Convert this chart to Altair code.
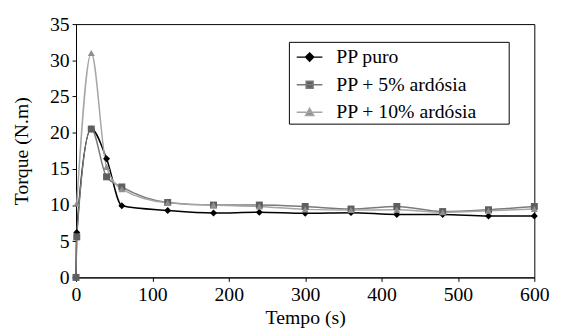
import altair as alt
import pandas as pd

tempo = [0, 1, 20, 40, 60, 120, 180, 240, 300, 360, 420, 480, 540, 600]
pp_puro = [0, 6.2, 20.5, 16.4, 9.9, 9.25, 8.9, 9.0, 8.85, 8.95, 8.7, 8.7, 8.5, 8.5]
pp_5 = [0, 5.6, 20.5, 13.9, 12.5, 10.35, 10.0, 10.0, 9.8, 9.45, 9.8, 9.1, 9.35, 9.8]
pp_10 = [None, 10.2, 31.0, 15.25, 12.2, 10.3, 10.0, 9.8, 9.4, 9.3, 9.35, 9.0, 9.2, 9.45]
series = ["PP puro", "PP + 5% ardósia", "PP + 10% ardósia"]

rows = []
for name, vals in zip(series, [pp_puro, pp_5, pp_10]):
    for t, v in zip(tempo, vals):
        if v is not None:
            rows.append({"Tempo": t, "Torque": v, "Serie": name})
df = pd.DataFrame(rows)

FONT = "Liberation Serif, Times New Roman, Times, DejaVu Serif, serif"
line_colors = ["#000000", "#7a7a7a", "#a6a6a6"]
mark_colors = ["#000000", "#5f5f5f", "#8f8f8f"]
shapes = ["diamond", "square", "triangle-up"]
legend_paths = [
    "M-0.56,0H1.37M0.41,-0.3L0.71,0L0.41,0.3L0.11,0Z",
    "M-0.56,0H1.37M0.15,-0.26H0.67V0.26H0.15Z",
    "M-0.56,0H1.37M0.41,-0.3L0.72,0.24H0.1Z",
]

x = alt.X("Tempo:Q", title="Tempo (s)",
          scale=alt.Scale(domain=[0, 600], nice=False),
          axis=alt.Axis(values=[0, 100, 200, 300, 400, 500, 600], grid=False,
                        titlePadding=4))
y = alt.Y("Torque:Q", title="Torque (N.m)",
          scale=alt.Scale(domain=[0, 35], nice=False),
          axis=alt.Axis(values=[0, 5, 10, 15, 20, 25, 30, 35], grid=False,
                        titlePadding=18))

stroke_scale = alt.Scale(domain=series, range=line_colors)
fill_scale = alt.Scale(domain=series, range=mark_colors)

base = alt.Chart(df)

legend_cfg = alt.Legend(
    title="M", titleOrient="right", titleColor="white", titleFontSize=20,
    titleFont=FONT, titlePadding=12,
    orient="none", legendX=216, legendY=18,
    symbolSize=729, symbolStrokeWidth=1.5,
    labelFont=FONT, labelFontSize=20, labelColor="black",
    labelLimit=400, labelOffset=18, padding=1, rowPadding=3,
    strokeColor="black", fillColor="white",
)

legend_layer = base.mark_point(filled=True, size=1, opacity=1, strokeWidth=0.1).encode(
    x=x, y=y,
    fill=alt.Fill("Serie:N", sort=series, scale=fill_scale, legend=legend_cfg),
    stroke=alt.Stroke("Serie:N", sort=series, scale=stroke_scale, legend=legend_cfg),
    shape=alt.Shape("Serie:N", sort=series,
                    scale=alt.Scale(domain=series, range=legend_paths), legend=legend_cfg),
)

lines = base.mark_line(interpolate="monotone", strokeWidth=1.5).encode(
    x=x, y=y,
    stroke=alt.Stroke("Serie:N", sort=series, scale=stroke_scale, legend=None),
)

point_layers = []
for name, shp in zip(series, shapes):
    point_layers.append(
        base.transform_filter(alt.datum.Serie == name)
        .mark_point(filled=True, size=50, opacity=1, shape=shp)
        .encode(x=x, y=y,
                fill=alt.Fill("Serie:N", sort=series, scale=fill_scale, legend=None))
    )

chart = alt.layer(legend_layer, lines, *point_layers).properties(
    width=465, height=257,
    autosize=alt.AutoSizeParams(type="none"),
    padding={"left": 69, "top": 14, "right": 23, "bottom": 50},
    background="white",
).configure_view(stroke="black", strokeWidth=1).configure_axis(
    labelFont=FONT, labelFontSize=20, labelColor="black",
    titleFont=FONT, titleFontSize=20, titleFontWeight="normal", titleColor="black",
    domainColor="black", tickColor="black", tickSize=4, labelPadding=3,
    labelFlush=False,
)

chart.save("out.html", embed_options={"renderer": "svg", "actions": False})
